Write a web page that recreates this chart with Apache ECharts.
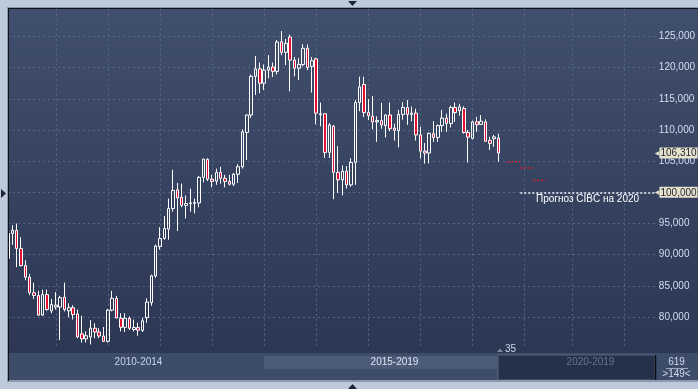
<!DOCTYPE html>
<html><head><meta charset="utf-8">
<script src="https://cdn.jsdelivr.net/npm/echarts@6/dist/echarts.min.js"></script>
<style>html,body{margin:0;padding:0;background:#bdcadb;}#c{width:698px;height:389px;}</style>
</head><body><div id="c"></div>
<script>
// ---- categories: monthly bars, first visible bar Mar 2010, 150 slots ----
const startYear = 2010, startMonth = 3, totalSlots = 150;
const categories = [];
for (let k = 0; k < totalSlots; k++) {
  const m = startMonth - 1 + k;
  categories.push((startYear + Math.floor(m / 12)) + '-' + String(m % 12 + 1).padStart(2, '0'));
}
// ---- monthly OHLC ----
const opens = [89.4,93.4,93.9,91.0,88.3,86.4,83.9,83.45,80.3,83.6,81.0,81.6,81.6,83.2,81.0,81.5,80.5,77.3,76.5,76.8,
78.2,77.6,76.95,76.1,81.1,83.0,79.8,78.35,79.8,78.0,78.3,77.85,79.9,82.3,86.6,91.3,92.6,94.1,97.4,100.4,
99.2,97.9,98.2,98.25,98.3,102.4,105.3,102.1,101.8,103.2,102.25,101.75,101.3,102.9,104.1,109.6,112.4,118.6,119.8,117.5,
119.6,120.1,119.4,124.15,122.45,124.9,121.2,119.9,120.5,123.1,120.2,121.4,112.45,112.6,106.4,110.6,103.2,102.0,103.4,101.2,
104.8,114.4,117.3,112.8,112.2,111.3,111.5,110.7,112.4,110.3,109.9,112.5,113.6,112.5,112.7,109.2,106.6,106.3,109.4,108.8,
110.7,111.9,111.05,113.6,113.1,113.45,109.6,108.65,111.3,110.9,111.3,108.3,108.6,108.7];
const closes = [93.4,93.9,91.0,88.25,86.4,83.9,83.45,80.3,83.6,81.2,82.0,81.9,83.1,81.2,81.5,80.4,76.8,76.5,77.0,78.2,
77.6,76.95,76.1,81.1,83.0,79.85,78.35,79.8,78.2,78.3,77.9,79.4,82.4,86.6,91.4,92.6,94.2,97.4,100.3,99.1,
97.9,98.2,98.3,98.35,102.4,105.3,102.1,101.75,103.2,102.25,101.75,101.3,102.9,104.1,109.7,112.4,118.6,119.8,117.5,119.6,
120.1,119.4,124.1,122.45,123.9,121.2,119.9,120.5,123.1,120.0,121.1,112.7,112.6,106.4,110.8,103.2,102.0,103.4,101.2,104.8,
114.4,116.9,112.8,112.3,111.3,111.5,110.8,112.4,110.2,109.95,112.5,113.6,112.5,112.7,109.2,106.6,106.3,109.45,108.8,110.7,
111.9,111.05,113.6,112.8,113.7,109.6,108.85,111.3,110.85,111.4,108.2,107.85,108.9,106.31];
const lows = [88.8,91.6,88.0,88.1,85.9,83.5,82.9,80.2,80.2,81.0,80.6,81.2,76.3,80.9,80.0,79.6,76.6,75.9,75.9,75.6,
76.6,76.6,76.0,75.9,80.9,79.8,77.7,77.6,77.9,77.7,77.0,77.6,79.1,81.8,86.3,90.8,92.4,92.4,96.9,93.8,
97.6,95.8,96.9,96.6,97.6,101.6,101.8,100.8,101.2,101.4,100.8,101.1,101.0,101.5,103.8,105.2,111.9,115.6,115.9,116.4,
118.3,118.5,118.9,122.0,120.4,116.2,118.6,118.0,120.2,119.6,116.0,110.9,110.6,105.5,105.5,98.9,99.9,99.5,100.6,100.9,
101.2,113.0,112.1,111.6,110.1,108.1,110.2,108.8,109.8,108.3,107.2,111.65,110.8,111.4,108.3,105.45,104.6,104.65,108.1,108.1,
109.7,109.7,110.4,111.3,112.3,109.4,104.8,108.5,109.7,110.8,108.1,106.8,107.3,104.9];
const highs = [93.7,94.7,95.0,92.8,89.1,86.9,85.5,84.2,84.4,84.4,82.9,84.0,83.4,85.5,82.2,81.9,81.2,80.2,77.7,79.5,
79.0,78.2,78.4,81.3,84.2,83.4,80.6,80.6,80.1,79.6,79.1,79.9,83.0,86.8,91.6,94.4,96.2,99.0,103.6,101.5,
101.4,99.5,100.6,99.0,102.6,105.4,105.45,102.8,103.8,104.1,102.8,102.8,103.1,104.5,110.1,112.5,118.9,121.85,120.8,120.5,
122.0,120.8,124.4,125.85,124.6,125.3,121.7,121.5,123.75,123.7,121.7,121.6,114.4,112.7,111.1,110.8,107.4,104.3,104.2,105.45,
114.8,118.55,118.55,114.95,115.45,112.2,114.35,112.5,114.4,111.0,113.2,114.45,114.8,113.75,113.4,110.5,107.9,109.6,111.4,110.9,
113.2,112.6,113.9,114.4,114.2,113.8,110.0,111.5,112.1,112.4,111.7,108.9,109.2,109.4];
// ---- forecast steps (red dotted) ----
const forecastLevels = [104.9, 103.9, 101.9];
const forecastSeg = [['2019-10','2020-01'], ['2020-01','2020-04'], ['2020-04','2020-07']];
const targetValue = 100, targetStart = '2020-01';
const targetText = 'Прогноз CIBC на 2020';
const lastPrice = closes[closes.length - 1];
// ---- vertical grid months, y tick labels, bottom strip labels ----
const gridMonths = ['2011-02','2012-02','2013-02','2014-02','2015-02','2016-02','2017-02','2018-02','2019-02','2020-02','2021-01','2022-01'];
const periodLabels = ['2010-2014', '2015-2019', '2020-2019'];
const barCountText = ['619', '>149<', '35'];

function fontAvailable(name){
  const c = document.createElement('canvas').getContext('2d');
  const t = '0123456789,-Прогноз';
  c.font = '30px monospace'; const w1 = c.measureText(t).width;
  c.font = '30px "' + name + '", monospace'; const w2 = c.measureText(t).width;
  return w1 !== w2;
}
const hasNarrow = fontAvailable('Liberation Sans Narrow');
const NF = hasNarrow ? '"Liberation Sans Narrow"' : '"Liberation Sans"';
const NS = hasNarrow ? 11 : 10;
const RF = '"Liberation Sans", Arial, sans-serif';

const fmt = v => v.toFixed(3).replace('.', ',');

function segData(segs, levels){
  const d = new Array(totalSlots).fill(null);
  segs.forEach((s, k) => {
    const a = categories.indexOf(s[0]), b = categories.indexOf(s[1]);
    for (let i = a; i <= b; i++) d[i] = levels[k];
  });
  return d;
}
const fcA = segData([forecastSeg[0], forecastSeg[2]], [forecastLevels[0], forecastLevels[2]]);
const fcB = segData([forecastSeg[1]], [forecastLevels[1]]);

const tag = (txt) => ({
  show: true, position: 'end', distance: 0,
  formatter: '{a|◀}{b|' + txt + '}',
  rich: {
    a: {color: '#e6e2cc', fontSize: 6, lineHeight: 11, fontFamily: 'DejaVu Sans'},
    b: {backgroundColor: '#e6e2cc', color: '#1c2230', fontSize: NS, fontFamily: NF, padding: [1, 1, 0, 1], lineHeight: 11}
  }
});

const bgEls = [
  {type:'rect', z:-10, shape:{x:7,y:7,width:691,height:375}, style:{fill:'#8a99ae'}},
  {type:'rect', z:-10, shape:{x:8,y:8,width:690,height:373}, style:{fill:'#0e121b'}},
  {type:'rect', z:-10, shape:{x:9,y:9,width:689,height:344}, style:{fill:new echarts.graphic.LinearGradient(0,0,0,1,[{offset:0,color:'#404f6d'},{offset:1,color:'#2c3754'}])}},
  {type:'rect', z:-10, shape:{x:9,y:353,width:689,height:27}, style:{fill:'#3d4c68'}},
  {type:'rect', z:-10, shape:{x:264,y:356,width:233,height:13}, style:{fill:'#4b5b78'}},
  {type:'rect', z:-10, shape:{x:498,y:355,width:157,height:25}, style:{fill:'#25314b', stroke:'#56657f', lineWidth:1}},
  {type:'line', z:-10, shape:{x1:655.5,y1:355,x2:655.5,y2:381}, style:{stroke:'#0b0e15', lineWidth:1.5}},
  {type:'line', z:-10, shape:{x1:9,y1:380.5,x2:698,y2:380.5}, style:{stroke:'#8d9bb1', lineWidth:1}},
];
const topEls = [
  {type:'rect', z:100, shape:{x:0,y:0,width:7,height:389}, style:{fill:'#bdcadb'}},
  {type:'rect', z:100, shape:{x:7,y:7,width:1,height:375}, style:{fill:'#8a99ae'}},
  {type:'rect', z:100, shape:{x:8,y:8,width:1,height:373}, style:{fill:'#0e121b'}},
  {type:'polygon', z:101, shape:{points:[[348,1],[357,1],[352.5,6]]}, style:{fill:'#1d2536'}},
  {type:'polygon', z:101, shape:{points:[[348,389],[357,389],[352.5,384]]}, style:{fill:'#1d2536'}},
  {type:'polygon', z:101, shape:{points:[[1,189],[1,198],[6,193.5]]}, style:{fill:'#1d2536'}},
  {type:'text', z:101, x:138.5, y:362.5, style:{text:periodLabels[0], fill:'#c9d6ec', font:NS+'px '+NF, align:'center', verticalAlign:'middle'}},
  {type:'text', z:101, x:394.5, y:362.5, style:{text:periodLabels[1], fill:'#dde6f5', font:NS+'px '+NF, align:'center', verticalAlign:'middle'}},
  {type:'text', z:101, x:590.5, y:362.5, style:{text:periodLabels[2], fill:'#66748e', font:NS+'px '+NF, align:'center', verticalAlign:'middle'}},
  {type:'polygon', z:101, shape:{points:[[497,352],[503,352],[500,348.5]]}, style:{fill:'#7d8aa0'}},
  {type:'text', z:101, x:505, y:349.5, style:{text:barCountText[2], fill:'#cdd8ea', font:NS+'px '+NF, align:'left', verticalAlign:'middle'}},
  {type:'text', z:101, x:676.5, y:362, style:{text:barCountText[0], fill:'#cdd8ea', font:NS+'px '+NF, align:'center', verticalAlign:'middle'}},
  {type:'line', z:101, shape:{x1:666,y1:368.5,x2:688,y2:368.5}, style:{stroke:'#98a6bc', lineWidth:1}},
  {type:'text', z:101, x:676.5, y:374.5, style:{text:barCountText[1], fill:'#cdd8ea', font:NS+'px '+NF, align:'center', verticalAlign:'middle'}},
];

const gridLine = {color:'#56668a', type:[2,3], width:1};
const hiddenLine = {color:'rgba(0,0,0,0)', width:1, type:'solid'};
const chart = echarts.init(document.getElementById('c'), null, {renderer:'canvas'});
chart.setOption({
  animation: false,
  backgroundColor: '#bdcadb',
  grid: {left: 8, right: 43, top: 8.7, bottom: 40.8, containLabel: false},
  xAxis: {
    type: 'category', data: categories, boundaryGap: false,
    axisLine: {show: false}, axisTick: {show: false}, axisLabel: {show: false},
    splitLine: {show: true, interval: (i, v) => gridMonths.includes(v), lineStyle: gridLine}
  },
  yAxis: {
    type: 'value', position: 'right', min: 75, max: 129.45, interval: 5,
    axisLine: {show: false}, axisTick: {show: false},
    axisLabel: {showMinLabel: false, showMaxLabel: false, margin: 4, color: '#d2ddef', fontSize: NS, fontFamily: NF, formatter: fmt},
    splitLine: {show: true, showMinLine: false, showMaxLine: false, lineStyle: gridLine}
  },
  graphic: {elements: bgEls.concat(topEls)},
  series: [
    {
      type: 'candlestick', barWidth: 3,
      data: opens.map((o, i) => [o, closes[i], lows[i], highs[i]]),
      itemStyle: {color: 'rgba(0,0,0,0)', color0: '#e3102f', borderColor: '#ffffff', borderColor0: '#ffffff', borderWidth: 1},
      markLine: {
        symbol: 'none', silent: true, animation: false,
        data: [
          [{coord: [targetStart, targetValue], lineStyle: {color: '#c4ccd8', width: 2, type: [2, 2]},
            label: {show: true, position: 'insideMiddleBottom', distance: 2, formatter: targetText, color: '#ffffff', fontSize: 10, fontFamily: RF}},
           {coord: [categories[totalSlots - 1], targetValue]}],
          {yAxis: targetValue, lineStyle: hiddenLine, label: tag(fmt(targetValue))},
          {yAxis: lastPrice, lineStyle: hiddenLine, label: tag(fmt(lastPrice))}
        ]
      }
    },
    {type: 'line', data: fcA, symbol: 'none', silent: true, lineStyle: {color: '#d81e2c', width: 1.5, type: [2, 2]}},
    {type: 'line', data: fcB, symbol: 'none', silent: true, lineStyle: {color: '#d81e2c', width: 1.5, type: [2, 2]}}
  ]
});
</script></body></html>
